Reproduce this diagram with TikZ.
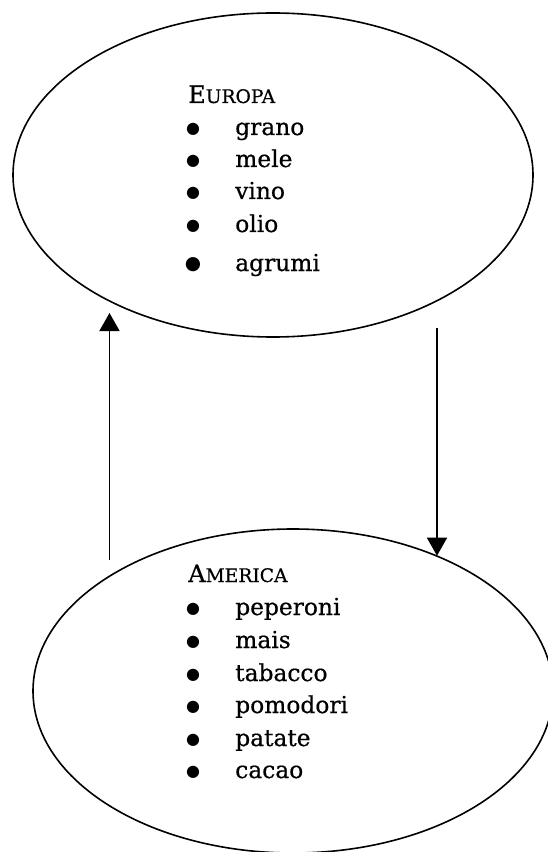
\documentclass[tikz,border=0pt]{standalone}
\usepackage{fontspec}
\setmainfont{DejaVu Serif}[FakeBold=0.6]
\newfontfamily\txtfont{DejaVu Serif}[FakeBold=0.6]
\newfontfamily\symfont{DejaVu Sans}
\usetikzlibrary{shapes.geometric,arrows.meta}
\begin{document}
\begin{tikzpicture}[x=0.75pt,y=-0.75pt,
  region/.style={draw,line width=1.2pt,ellipse,minimum width=390pt,minimum height=243pt,inner sep=0pt},
  head/.style={anchor=base west,inner sep=0pt,font=\txtfont\fontsize{18pt}{22pt}\selectfont},
  bul/.style={anchor=base,inner sep=0pt,yshift=1pt,font=\symfont\fontsize{12pt}{14pt}\selectfont},
  bigbul/.style={bul,font=\symfont\fontsize{14pt}{16pt}\selectfont},
  itemtxt/.style={anchor=base west,inner sep=0pt,font=\txtfont\fontsize{17.5pt}{22pt}\selectfont},
  flow/.style={line width=1.2pt,-{Triangle[width=15pt,length=13.5pt]}}]
\useasboundingbox (0,0) rectangle (547,852);
% ellipses
\node[region] (eu) at (273,175) {};
\node[region] (am) at (293,691) {};
% Europa
\node[head] (euh) at (188,103) {E{\fontsize{14pt}{18pt}\selectfont UROPA}};
\foreach \y/\t [count=\i] in {135/grano,167/mele,199/vino,232/olio}{
  \node[bul] (eub\i) at (193,\y) {●};
  \node[itemtxt] (eut\i) at (235,\y) {\t};
}
\node[bigbul] (eub5) at (193,271) {●};
\node[itemtxt] (eut5) at (235,271) {agrumi};
% America
\node[head] (amh) at (188,582) {A{\fontsize{14pt}{18pt}\selectfont MERICA}};
\foreach \y/\t [count=\i] in {615/peperoni,648/mais,681/tabacco,713/pomodori,746/patate,778/cacao}{
  \node[bul] (amb\i) at (193,\y) {●};
  \node[itemtxt] (amt\i) at (235,\y) {\t};
}
% arrows
\coordinate (u0) at (109.5,560);
\coordinate (u1) at (109.5,313);
\draw[flow] (u0) -- (u1);
\coordinate (d0) at (437,328);
\draw[flow] (d0) -- (d0 |- am.43);
\end{tikzpicture}
\end{document}
